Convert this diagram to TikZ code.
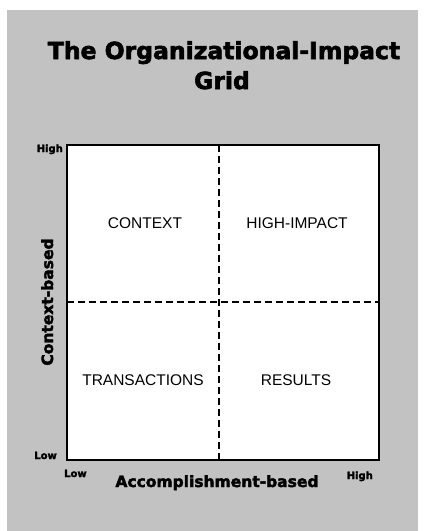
\documentclass[tikz,border=0pt]{standalone}
\usepackage{fontspec}
\setmainfont{Liberation Sans}
\newfontfamily\heavyfont{DejaVu Sans}[BoldFeatures={FakeBold=2.5}]
\usetikzlibrary{positioning}
\definecolor{paper}{gray}{0.76}
\tikzstyle{heading} = [font=\heavyfont\bfseries\fontsize{23.5}{28}\selectfont, inner sep=0pt]
\tikzstyle{axis} = [font=\heavyfont\bfseries\fontsize{15.5}{18}\selectfont, inner sep=0pt]
\tikzstyle{level} = [font=\heavyfont\bfseries\fontsize{10}{12}\selectfont, inner sep=0pt]
\tikzstyle{quadrant} = [font=\fontsize{15.5}{18}\selectfont, inner sep=0pt]
\tikzstyle{frame} = [line width=2pt, fill=white]
\tikzstyle{divider} = [line width=2pt, dash pattern=on 7pt off 4pt]

\begin{document}
\begin{tikzpicture}[x=1pt, y=-1pt]
    \useasboundingbox (0,0) rectangle (425,531);

    % Paper.
    \fill [paper] (7,10) rectangle (418,531);

    % Title.
    \node (title) [heading, anchor=base] at (224,59) {The Organizational-Impact};
    \node (title2) [heading, anchor=base] at (222,89) {Grid};

    % Grid.
    \coordinate (nw) at (67,145);
    \coordinate (se) at (379,460);
    \coordinate (mid) at (219,302);
    \draw [frame] (nw) rectangle (se);
    \draw [divider] (mid |- nw) -- (mid |- se);
    \draw [divider] (mid -| nw) -- (mid -| se);

    % Quadrants.
    \node (context) [quadrant] at (145,223) {CONTEXT};
    \node (impact) [quadrant] at (297,223) {HIGH-IMPACT};
    \node (transactions) [quadrant] at (143,380) {TRANSACTIONS};
    \node (results) [quadrant] at (296,380) {RESULTS};

    % Axes.
    \node (xaxis) [axis, anchor=base] at (217,487) {Accomplishment-based};
    \node (yaxis) [axis, anchor=base, rotate=90] at (53,302) {Context-based};
    \node (yhigh) [level, anchor=base east] at (63,152) {High};
    \node (ylow) [level, anchor=base east] at (57,459) {Low};
    \node (xlow) [level, anchor=base west] at (64,477) {Low};
    \node (xhigh) [level, anchor=base east] at (373,479) {High};
\end{tikzpicture}
\end{document}
